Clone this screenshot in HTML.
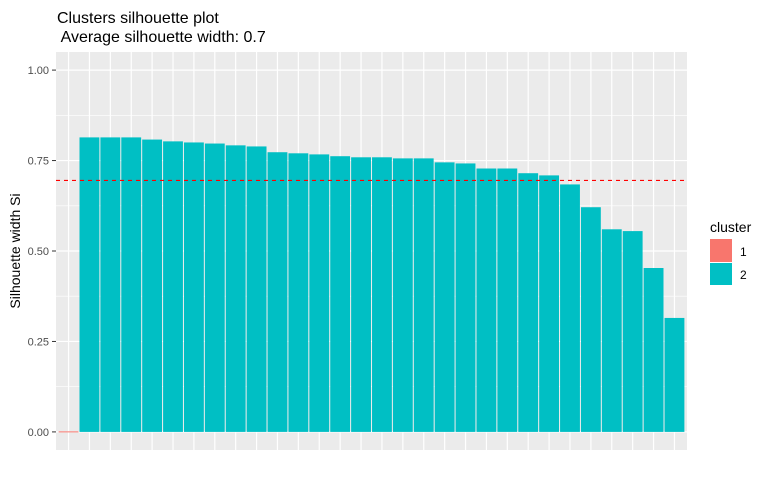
<!DOCTYPE html>
<html><head><meta charset="utf-8"><style>
body{margin:0;background:#fff;font-family:"Liberation Sans",Arial,sans-serif}
svg text{font-family:"Liberation Sans",Arial,sans-serif}
</style></head><body>
<svg id="chart" width="768" height="480" xmlns="http://www.w3.org/2000/svg">
<text x="57" y="23" font-size="16" fill="#000">Clusters silhouette plot</text>
<text x="57" y="42" font-size="16" fill="#000" xml:space="preserve"> Average silhouette width: 0.7</text>
<rect x="56" y="52" width="631" height="398" fill="#ebebeb"/>
<g id="grid"></g>
<g id="bars"></g>
<g id="axis"></g>
<text transform="translate(20,251) rotate(-90)" text-anchor="middle" font-size="14" fill="#000">Silhouette width Si</text>
<g>
<text x="710" y="232" font-size="14" fill="#000">cluster</text>
<rect x="710" y="239" width="22" height="23" fill="#f8766d"/>
<rect x="710" y="263" width="22" height="22" fill="#00bfc4"/>
<text x="740" y="256" font-size="12" fill="#000">1</text>
<text x="740" y="279" font-size="12" fill="#000">2</text>
</g>
</svg>
<script>
const clusters=[1,2,2,2,2,2,2,2,2,2,2,2,2,2,2,2,2,2,2,2,2,2,2,2,2,2,2,2,2,2];
const values=[0.0,0.814,0.814,0.814,0.808,0.803,0.800,0.797,0.792,0.789,0.773,0.770,0.767,0.762,0.759,0.759,0.756,0.756,0.745,0.742,0.728,0.728,0.715,0.709,0.684,0.621,0.560,0.555,0.453,0.315];
const avgWidth=0.695;
const yTicks=[0,0.25,0.5,0.75,1.0];
const yTickLabels=["0.00","0.25","0.50","0.75","1.00"];
const colors={1:"#f8766d",2:"#00bfc4"};
const NS="http://www.w3.org/2000/svg";
const L=56,R=687,T=52,B=450;
const n=values.length;
const step=(R-L)/(n-1+1.2);
const xC=i=>L+step*(0.6+i);
const y=v=>B-(v+0.05)/1.1*(B-T);
function mk(tag,attrs,parent){const e=document.createElementNS(NS,tag);for(const k in attrs)e.setAttribute(k,attrs[k]);document.getElementById(parent).appendChild(e);return e;}
for(let i=0;i<yTicks.length-1;i++){const v=(yTicks[i]+yTicks[i+1])/2;
const g=mk("line",{x1:L,x2:R,y1:y(v),y2:y(v),stroke:"#fff","stroke-width":0.6},"grid");

}
yTicks.forEach((v,i)=>{
const g=mk("line",{x1:L,x2:R,y1:y(v),y2:y(v),stroke:"#fff","stroke-width":1.2},"grid");


const t=mk("line",{x1:L-4,x2:L,y1:y(v),y2:y(v),stroke:"#333","stroke-width":1},"axis");


const tx=mk("text",{x:L-7,y:y(v)+4,"text-anchor":"end","font-size":11,fill:"#4d4d4d"},"axis");
tx.textContent=yTickLabels[i];

});
values.forEach((v,i)=>{
const g=mk("line",{x1:xC(i),x2:xC(i),y1:T,y2:B,stroke:"#fff","stroke-width":1.2},"grid");


const w=step*0.95;
const h=Math.max(y(0)-y(v),0);
const b=mk("rect",{x:xC(i)-w/2,y:y(v),width:w,height:h,fill:colors[clusters[i]]},"bars");


if(h<1){const ln=mk("line",{x1:xC(i)-w/2,x2:xC(i)+w/2,y1:y(0),y2:y(0),stroke:colors[clusters[i]],"stroke-width":1},"bars");

}});
const m=mk("line",{x1:L,x2:R,y1:y(avgWidth),y2:y(avgWidth),stroke:"#ff0000","stroke-width":1.2,"stroke-dasharray":"4,4"},"bars");


</script>
</body></html>
